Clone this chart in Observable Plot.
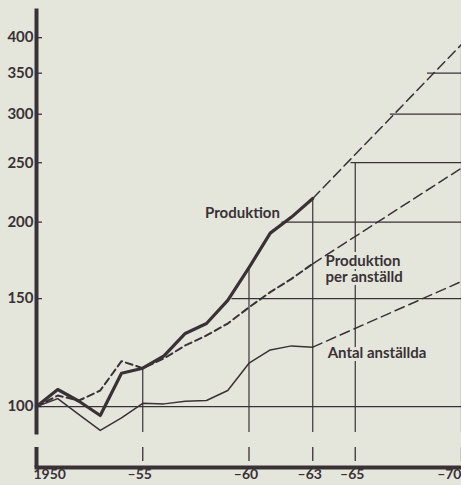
<!DOCTYPE html>
<html>
<head>
<meta charset="utf-8">
<script src="https://cdn.jsdelivr.net/npm/d3@7"></script>
<script src="https://cdn.jsdelivr.net/npm/@observablehq/plot@0.6"></script>
<style>
  html, body { margin: 0; padding: 0; background: #e4e6dc; }
  #chart { width: 461px; height: 485px; overflow: hidden; }
</style>
</head>
<body>
<div id="chart"></div>
<script>
// ---- data (index, 1950 = 100) ----
const years      = [1950, 1951, 1952, 1953, 1954, 1955, 1956, 1957, 1958, 1959, 1960, 1961, 1962, 1963];
const produktion = [100, 106.6, 102, 96.7, 113.3, 115.5, 121, 131.6, 136.6, 149, 168.6, 191.9, 203.8, 218.6];
const perAnstalld = [100, 104.2, 102.3, 106.2, 118.6, 115.5, 119.8, 125.8, 130.6, 136.6, 145.2, 153.7, 161.6, 171];
const antal      = [100, 103, 97, 91.4, 95.8, 101.2, 101, 102, 102.3, 106.2, 117.7, 123.7, 125.6, 125];

// projections 1963 -> 1970
const projYears       = [1963, 1970];
const produktionProj  = [218.6, 390];
const perAnstalldProj = [171, 245];
const antalProj       = [125, 160];

// guide lines (vertical: year and top value; horizontal: value and start year)
const vGridYears = [1955, 1960, 1963, 1965, 1970];
const vGridTops  = [115.5, 168.6, 218.6, 250, 390];
const hGridValues = [100, 150, 200, 250, 300, 350];
const hGridStarts = [1950, 1959.2, 1961.55, 1964.8, 1966.65, 1968.4];

// tick labels
const yTicks = [100, 150, 200, 250, 300, 350, 400];
const xTicksMid = [1955, 1960, 1963, 1965];
const xTickLabels = {1950: "1950", 1955: "–55", 1960: "–60", 1963: "–63", 1965: "–65", 1970: "–70"};

// series labels
const labelTexts = ["Produktion", "Produktion\nper anställd", "Antal anställda"];

// ---- chart ----
const ink = "#3a3136";
const bg = "#e4e6dc";
const font = "Lato, 'DejaVu Sans', sans-serif";
const yDomain = [90.7, 443];
const xDomain = [1950, 1970];

const rows = (xs, ys) => xs.map((x, i) => ({x, y: ys[i]}));

const vGrid = vGridYears.map((x, i) => ({x, top: vGridTops[i]}));
const hGrid = hGridValues.map((y, i) => ({y, start: hGridStarts[i]}));

const labels = [
  {x: 1957.93, y: 207.5, text: labelTexts[0]},
  {x: 1963.6, y: 168, text: labelTexts[1]},
  {x: 1963.7, y: 122.5, text: labelTexts[2]}
];

const chart = Plot.plot({
  width: 461,
  height: 485,
  marginLeft: 36,
  marginRight: 0,
  marginTop: 10,
  marginBottom: 53,
  style: {background: bg, color: ink, fontFamily: font, overflow: "visible"},
  x: {domain: xDomain},
  y: {type: "log", domain: yDomain},
  marks: [
    // guide lines
    Plot.ruleX(vGrid, {x: "x", y1: yDomain[0], y2: "top", stroke: ink, strokeWidth: 1.2}),
    Plot.ruleY(hGrid, {y: "y", x1: "start", x2: xDomain[1], stroke: ink, strokeWidth: 1.2}),

    // series labels with paper-coloured halo
    Plot.text(labels, {x: "x", y: "y", text: "text", textAnchor: "start", lineAnchor: "middle",
      fontSize: 15, fontWeight: "bold", fill: ink, stroke: bg, strokeWidth: 6, lineHeight: 1.1}),

    // series
    Plot.line(rows(years, antal), {x: "x", y: "y", stroke: ink, strokeWidth: 1.5}),
    Plot.line(rows(projYears, antalProj), {x: "x", y: "y", stroke: ink, strokeWidth: 1.5, strokeDasharray: "10,5"}),
    Plot.line(rows(years, perAnstalld), {x: "x", y: "y", stroke: ink, strokeWidth: 2, strokeDasharray: "7,4"}),
    Plot.line(rows(projYears, perAnstalldProj), {x: "x", y: "y", stroke: ink, strokeWidth: 1.5, strokeDasharray: "10,5"}),
    Plot.line(rows(years, produktion), {x: "x", y: "y", stroke: ink, strokeWidth: 3.2}),
    Plot.line(rows(projYears, produktionProj), {x: "x", y: "y", stroke: ink, strokeWidth: 1.5, strokeDasharray: "10,5"}),

    // y axis: thick line, short inward ticks, labels on the left
    Plot.frame({anchor: "left", stroke: ink, strokeWidth: 4}),
    Plot.ruleY(yTicks, {y: d => d, x1: xDomain[0], x2: xDomain[0], insetRight: -6, stroke: ink, strokeWidth: 1.3}),
    Plot.axisY(yTicks, {anchor: "left", tickSize: 0, tickPadding: 3, fontSize: 15, fontWeight: "bold",
      fill: ink, tickFormat: d => String(d)}),

    // broken x axis below
    Plot.frame({anchor: "bottom", dy: 35, stroke: ink, strokeWidth: 4}),
    Plot.axisX([1955, 1960, 1963, 1965, 1970], {anchor: "bottom", tickSize: 14, dy: 15, text: null,
      stroke: ink, strokeWidth: 1.3}),
    Plot.axisX([1950], {anchor: "bottom", tickSize: 20, dy: 15, text: null, stroke: ink, strokeWidth: 4}),
    Plot.axisX([1950], {anchor: "bottom", tickSize: 0, tickPadding: 37, dx: -3, textAnchor: "start",
      fontSize: 14, fontWeight: "bold", fill: ink, tickFormat: d => xTickLabels[d]}),
    Plot.axisX(xTicksMid, {anchor: "bottom", tickSize: 0, tickPadding: 37, dx: -3,
      fontSize: 14, fontWeight: "bold", fill: ink, tickFormat: d => xTickLabels[d]}),
    Plot.axisX([1970], {anchor: "bottom", tickSize: 0, tickPadding: 37, textAnchor: "end",
      fontSize: 14, fontWeight: "bold", fill: ink, tickFormat: d => xTickLabels[d]})
  ]
});

document.getElementById("chart").appendChild(chart);
</script>
</body>
</html>
